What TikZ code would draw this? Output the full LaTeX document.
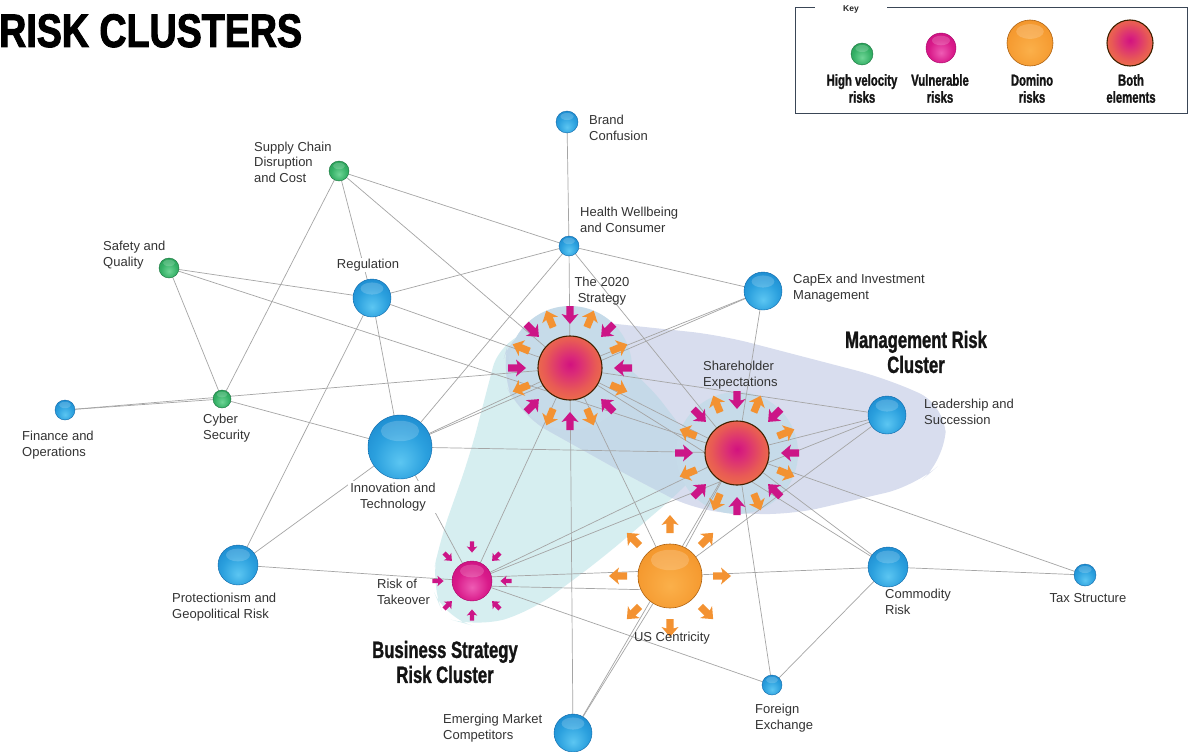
\documentclass[tikz,border=0pt]{standalone}
\usepackage{fontspec}
\setmainfont{Liberation Sans}
\newfontfamily\condfont[FakeStretch=0.71,FakeBold=1.2]{Liberation Sans}
\newfontfamily\titlefont[FakeStretch=0.8,FakeBold=2]{Liberation Sans}
\usetikzlibrary{calc}
\pgfdeclarelayer{back}
\pgfdeclarelayer{lines}
\pgfsetlayers{back,lines,main}

\definecolor{lnkc}{HTML}{A5A5A5}
\definecolor{labc}{HTML}{333333}
\definecolor{tealc}{HTML}{D6EEF0}
\definecolor{greyc}{HTML}{D8DDEE}
\definecolor{overc}{HTML}{C5D9E8}
\definecolor{haloc}{HTML}{C6DBE9}
\definecolor{magc}{HTML}{CC1587}
\definecolor{orac}{HTML}{F39232}
\definecolor{keyc}{HTML}{3A4656}
% sphere colours
\definecolor{blA}{HTML}{5CC6F2}
\definecolor{blB}{HTML}{2BA0DE}
\definecolor{blC}{HTML}{1581C9}
\definecolor{blD}{HTML}{0E67A8}
\definecolor{boA}{HTML}{D2127F}
\definecolor{boB}{HTML}{DA2A78}
\definecolor{boC}{HTML}{E85A55}
\definecolor{boD}{HTML}{F07A42}
\definecolor{boE}{HTML}{E2683A}
\definecolor{orA}{HTML}{FBB04A}
\definecolor{orB}{HTML}{F59A30}
\definecolor{orC}{HTML}{EA8A20}
\definecolor{orD}{HTML}{D97A15}
\definecolor{mgA}{HTML}{EE5CB4}
\definecolor{mgB}{HTML}{D91A8A}
\definecolor{mgC}{HTML}{C0087A}
\definecolor{mgD}{HTML}{A8066A}
\definecolor{grA}{HTML}{6FD596}
\definecolor{grB}{HTML}{35B066}
\definecolor{grC}{HTML}{1F8C4A}
\definecolor{grD}{HTML}{17733C}

\pgfdeclareradialshading{bluesph}{\pgfpoint{0bp}{-12bp}}{color(0bp)=(blA); color(20bp)=(blB); color(40bp)=(blC); color(52bp)=(blD); color(64bp)=(blD)}
\pgfdeclareradialshading{bothsph}{\pgfpoint{0bp}{3bp}}{color(0bp)=(boA); color(7bp)=(boB); color(20bp)=(boC); color(33bp)=(boD); color(48bp)=(boE); color(60bp)=(boE)}
\pgfdeclareradialshading{orasph}{\pgfpoint{0bp}{-8bp}}{color(0bp)=(orA); color(25bp)=(orB); color(45bp)=(orC); color(60bp)=(orD)}
\pgfdeclareradialshading{magsph}{\pgfpoint{0bp}{-8bp}}{color(0bp)=(mgA); color(20bp)=(mgB); color(45bp)=(mgC); color(60bp)=(mgD)}
\pgfdeclareradialshading{grnsph}{\pgfpoint{0bp}{-8bp}}{color(0bp)=(grA); color(20bp)=(grB); color(45bp)=(grC); color(60bp)=(grD)}

\tikzset{
  sph/.style={circle, inner sep=0pt, minimum size=#1},
  bsp/.style={sph=#1, shading=bluesph, draw=blD, line width=0.4pt},
  gsp/.style={sph=#1, shading=grnsph, draw=grD, line width=0.4pt},
  msp/.style={sph=#1, shading=magsph, draw=mgD, line width=0.4pt},
  osp/.style={sph=#1, shading=orasph, draw=orD!80!black, line width=0.6pt},
  both/.style={sph=#1, shading=bothsph, draw=black!75!orange, line width=1.1pt},
  lnk/.style={draw=lnkc, line width=0.7pt},
  lab/.style={inner sep=0pt, font=\fontsize{13}{15.5}\selectfont, text=labc, align=left},
  cl/.style={inner sep=0pt, font=\condfont\bfseries\fontsize{23.5}{25}\selectfont, align=center, text=black!92},
  keylab/.style={inner sep=0pt, font=\condfont\bfseries\fontsize{16}{17}\selectfont, align=center, text=black!92},
  pics/barrow/.style={code={\fill[#1] (9,0) -- (-1,8.5) -- (0.5,3.6) -- (-9,3.6) -- (-9,-3.6) -- (0.5,-3.6) -- (-1,-8.5) -- cycle;}}
}

\begin{document}
\begin{tikzpicture}[x=1pt,y=-1pt]
\useasboundingbox (0,0) rectangle (1194,752);
\begin{pgfonlayer}{back}
\fill[white] (0,0) rectangle (1194,752);
\end{pgfonlayer}

% ---------- title
\node[anchor=base west, inner sep=0pt, font=\titlefont\bfseries\fontsize{47}{47}\selectfont, text=black] (title) at (-1,47) {RISK CLUSTERS};

% ---------- nodes
\node[bsp=22] (BC) at (567,122) {};
\node[gsp=20] (SC) at (339,171) {};
\node[bsp=20] (HW) at (569,246) {};
\node[gsp=20] (SQ) at (169,268) {};
\node[bsp=38] (RG) at (372,298) {};
\node[both=64] (TS) at (570,368) {};
\node[bsp=38] (CX) at (763,291) {};
\node[both=64] (SE) at (737,453) {};
\node[bsp=38] (LS) at (887,415) {};
\node[bsp=20] (FO) at (65,410) {};
\node[gsp=18] (CS) at (222,399) {};
\node[bsp=64] (IT) at (400,447) {};
\node[bsp=40] (PG) at (238,565) {};
\node[msp=40] (RT) at (472,581) {};
\node[osp=64] (US) at (670,576) {};
\node[bsp=40] (CR) at (888,567) {};
\node[bsp=22] (TX) at (1085,575) {};
\node[bsp=20] (FX) at (772,685) {};
\node[bsp=38] (EM) at (573,733) {};

% gloss
\foreach \n/\r in {BC/11,SC/10,HW/10,SQ/10,RG/19,CX/19,LS/19,FO/10,CS/9,IT/32,PG/20,RT/20,US/32,CR/20,TX/11,FX/10,EM/19}
  \fill[white, opacity=0.18] ($(\n)+(0,-0.5*\r)$) ellipse [x radius=0.6*\r, y radius=0.32*\r];

% ---------- cluster regions
\begin{pgfonlayer}{back}
\path[rounded corners=28, save path=\tealp] (500,340) -- (565,322) -- (645,380) -- (708,462) -- (680,492) -- (600,560) -- (530,612) -- (478,627) -- (445,618) -- (431,585) -- (440,540) -- (470,455) -- cycle;
\path[rounded corners=30, save path=\greyp] (500,372) -- (512,330) -- (560,318) -- (720,335) -- (885,378) -- (946,405) -- (945,460) -- (915,486) -- (790,515) -- (700,512) -- (640,482) -- (520,415) -- cycle;
\fill[tealc, use path=\tealp];
\fill[greyc, use path=\greyp];
\begin{scope}
  \path[clip, use path=\tealp];
  \fill[overc, use path=\greyp];
\end{scope}
\fill[haloc] (TS) circle (62);
\fill[haloc] (SE) circle (61);
\end{pgfonlayer}

% ---------- connectors
\begin{pgfonlayer}{lines}
\draw[lnk] (BC) -- (HW);
\draw[lnk] (SC) -- (HW);
\draw[lnk] (HW) -- (CX);
\draw[lnk] (SC) -- (RG);
\draw[lnk] (SC) -- (CS);
\draw[lnk] (SC) -- (TS);
\draw[lnk] (SQ) -- (RG);
\draw[lnk] (SQ) -- (SE);
\draw[lnk] (SQ) -- (CS);
\draw[lnk] (FO) -- (CS);
\draw[lnk] (FO) -- (TS);
\draw[lnk] (CS) -- (IT);
\draw[lnk] (RG) -- (HW);
\draw[lnk] (RG) -- (TS);
\draw[lnk] (RG) -- (IT);
\draw[lnk] (RG) -- (PG);
\draw[lnk] (HW) -- (TS);
\draw[lnk] (HW) -- (IT);
\draw[lnk] (HW) -- (SE);
\draw[lnk] (CX) -- (TS);
\draw[lnk] (CX) -- (IT);
\draw[lnk] (CX) -- (SE);
\draw[lnk] (TS) -- (SE);
\draw[lnk] (TS) -- (LS);
\draw[lnk] (TS) -- (IT);
\draw[lnk] (IT) -- (SE);
\draw[lnk] (IT) -- (PG);
\draw[lnk] (IT) -- (RT);
\draw[lnk] (TS) -- (RT);
\draw[lnk] (TS) -- (EM);
\draw[lnk] (TS) -- (US);
\draw[lnk] (PG) -- (RT);
\draw[lnk] (RT.12) -- (US.172);
\draw[lnk] (RT.-15) -- (US.205);
\draw[lnk] (RT) -- (SE);
\draw[lnk] (RT) -- (LS);
\draw[lnk] (RT) -- (FX);
\draw[lnk] (US) -- (SE);
\draw[lnk] (US) -- (LS);
\draw[lnk] (US) -- (CR);
\draw[lnk] (US) -- (EM);
\draw[lnk] (SE) -- (EM);
\draw[lnk] (SE) -- (LS);
\draw[lnk] (SE) -- (CR);
\draw[lnk] (TS) -- (CR);
\draw[lnk] (SE) -- (TX);
\draw[lnk] (SE) -- (FX);
\draw[lnk] (CR) -- (TX);
\draw[lnk] (CR) -- (FX);
\end{pgfonlayer}

% ---------- arrow rings
\foreach \c in {TS,SE}{
  \foreach \a in {0,45,...,315}
    \pic[rotate=180-\a] at ($(\c)+(\a:53)$) {barrow=magc};
  \foreach \a in {22.5,67.5,...,337.5}
    \pic[rotate=-\a] at ($(\c)+(\a:53)$) {barrow=orac};
}
\foreach \a in {0,45,...,315}
  \pic[rotate=-\a] at ($(US)+(\a:52)$) {barrow=orac};
\foreach \a in {0,45,...,315}
  \pic[rotate=180-\a, scale=0.62] at ($(RT)+(\a:34)$) {barrow=magc};

% ---------- labels
\node[lab, anchor=west] (lBC) at (589,128) {Brand\\Confusion};
\node[lab, anchor=west] (lSC) at (254,162) {Supply Chain\\Disruption\\and Cost};
\node[lab, anchor=west] (lHW) at (580,220) {Health Wellbeing\\and Consumer};
\node[lab, anchor=west] (lSQ) at (103,255) {Safety and\\Quality};
\node[lab, fill=white, inner sep=1pt] (lRG) at (368,265) {Regulation};
\node[lab, align=center] (lTS) at (602,291) {The 2020\\Strategy};
\node[lab, anchor=west] (lCX) at (793,288) {CapEx and Investment\\Management};
\node[lab, anchor=west] (lSE) at (703,375) {Shareholder\\Expectations};
\node[lab, anchor=west] (lLS) at (924,412) {Leadership and\\Succession};
\node[lab, anchor=west] (lFO) at (22,445) {Finance and\\Operations};
\node[lab, anchor=west] (lCS) at (203,428) {Cyber\\Security};
\node[lab, align=center, fill=white, inner sep=2pt] (lIT) at (393,497) {Innovation and\\Technology};
\node[lab, anchor=west] (lPG) at (172,607) {Protectionism and\\Geopolitical Risk};
\node[lab, anchor=west] (lRT) at (377,592) {Risk of\\Takeover};
\node[lab] (lUS) at (672,638) {US Centricity};
\node[lab, anchor=west] (lCR) at (885,602) {Commodity\\Risk};
\node[lab] (lTX) at (1088,598) {Tax Structure};
\node[lab, anchor=west] (lFX) at (755,718) {Foreign\\Exchange};
\node[lab, anchor=west] (lEM) at (443,728) {Emerging Market\\Competitors};

\node[cl] (mgmt) at (916,352) {Management Risk\\Cluster};
\node[cl] (bus) at (445,662) {Business Strategy\\Risk Cluster};

% ---------- key
\draw[keyc, line width=1pt] (795,8) rectangle (1187,113);
\node[fill=white, minimum width=72, minimum height=8, inner sep=1pt, font=\bfseries\fontsize{8.5}{9}\selectfont, text=black!85] (keyt) at (851,9) {Key};
\node[gsp=22] (k1) at (862,54) {};
\node[msp=30] (k2) at (941,48) {};
\node[osp=46] (k3) at (1030,43) {};
\node[both=46] (k4) at (1130,43) {};
\foreach \n/\r in {k1/11,k2/15,k3/23}
  \fill[white, opacity=0.18] ($(\n)+(0,-0.5*\r)$) ellipse [x radius=0.6*\r, y radius=0.32*\r];
\node[keylab] (kl1) at (862,88.5) {High velocity\\risks};
\node[keylab] (kl2) at (940,88.5) {Vulnerable\\risks};
\node[keylab] (kl3) at (1032,88.5) {Domino\\risks};
\node[keylab] (kl4) at (1131,88.5) {Both\\elements};
\end{tikzpicture}
\end{document}
